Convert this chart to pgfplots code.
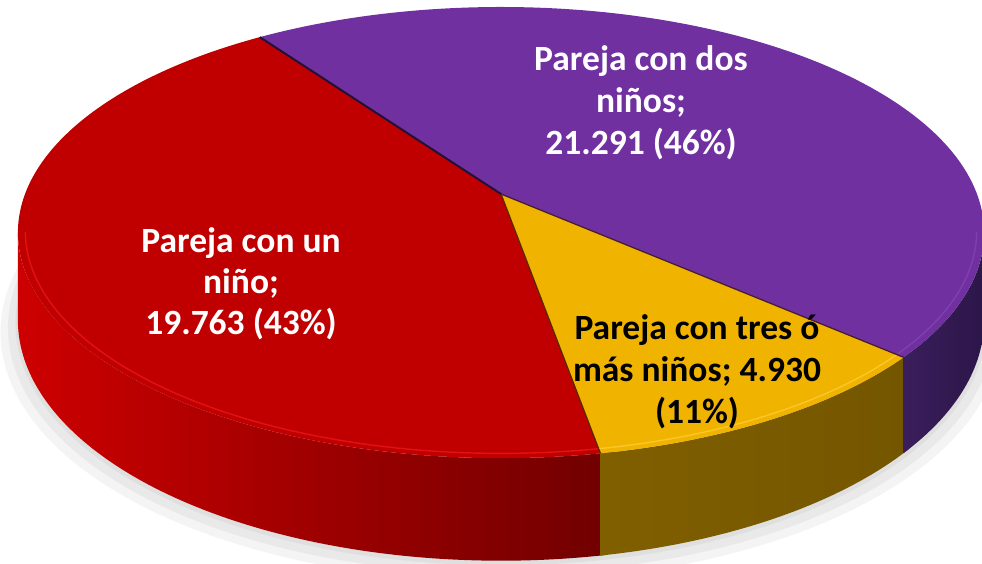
\documentclass[border=0pt]{standalone}
\usepackage{pgfplots}
\pgfplotsset{compat=1.18}
\usepackage{pgfplotstable}
\usepackage{fontspec}
\setmainfont{Carlito}
\definecolor{cRed}{RGB}{192,0,0}
\definecolor{cPur}{RGB}{112,48,160}
\definecolor{cYel}{RGB}{240,180,0}
\definecolor{sRedL}{RGB}{205,0,0}
\definecolor{sRedR}{RGB}{112,0,0}
\definecolor{sYelL}{RGB}{128,95,0}
\definecolor{sYelR}{RGB}{116,86,0}
\definecolor{sPurL}{RGB}{58,30,92}
\definecolor{sPurR}{RGB}{44,22,72}
\definecolor{hRed}{RGB}{226,18,18}
\definecolor{hYel}{RGB}{250,198,40}
\definecolor{hPur}{RGB}{126,64,176}
\pgfplotstableread{
cat value
un 19.763
dos 21.291
tres 4.930
}\piedata
\begin{document}%
\begin{tikzpicture}
\pgfplotstablegetelem{0}{value}\of\piedata \let\vA\pgfplotsretval
\pgfplotstablegetelem{1}{value}\of\piedata \let\vB\pgfplotsretval
\pgfplotstablegetelem{2}{value}\of\piedata \let\vC\pgfplotsretval
\pgfmathsetmacro\tot{\vA+\vB+\vC}
\pgfmathsetmacro\aS{280}
\pgfmathsetmacro\aR{\aS-360*\vA/\tot}
\pgfmathsetmacro\aP{\aR-360*\vB/\tot}
\pgfmathsetmacro\aY{\aP-360*\vC/\tot}
\pgfmathsetmacro\aPp{\aP+360}
\pgfmathsetmacro\aSx{\aS+1.2}
\pgfmathsetmacro\aPx{\aPp+1.2}
\pgfmathsetmacro\tL{180+asin(0.171)}
\pgfmathsetmacro\tRt{360-asin(0.171)}
\begin{axis}[
  at={(0,0)}, anchor=south west,
  width=982bp, height=564bp, scale only axis,
  xmin=0, xmax=982, ymin=0, ymax=564, y dir=reverse,
  hide axis, clip=false,
  declare function={
    den(\q,\w)=1+0.171*\q*sin(\w);
    PX(\q,\w)=501+476*\q*cos(\w)/den(\q,\w);
    PY(\q,\w)=194-219*\q*sin(\w)/den(\q,\w);
  },
]
% soft shadow
\foreach \k/\o in {1.035/9,1.02/6,1.005/3}{
  \addplot[fill=black, opacity=0.045, draw=none, domain=0:360, samples=181]
    ({PX(\k,\x)},{PY(\k,\x)+85/den(\k,\x)+\o});
}
% sides (each slightly overlapping the next to hide seams)
\addplot[shade, left color=sRedL, right color=sRedR, draw=none, domain=0:2, samples=401]
  ({PX(1,\tL+(\aSx-\tL)*(1-abs(\x-1)))},
   {PY(1,\tL+(\aSx-\tL)*(1-abs(\x-1)))+85*(\x>1)/den(1,\tL+(\aSx-\tL)*(1-abs(\x-1)))});
\addplot[shade, left color=sYelL, right color=sYelR, draw=none, domain=0:2, samples=401]
  ({PX(1,\aS+(\aPx-\aS)*(1-abs(\x-1)))},
   {PY(1,\aS+(\aPx-\aS)*(1-abs(\x-1)))+85*(\x>1)/den(1,\aS+(\aPx-\aS)*(1-abs(\x-1)))});
\addplot[shade, left color=sPurL, right color=sPurR, draw=none, domain=0:2, samples=401]
  ({PX(1,\aPp+(\tRt-\aPp)*(1-abs(\x-1)))},
   {PY(1,\aPp+(\tRt-\aPp)*(1-abs(\x-1)))+85*(\x>1)/den(1,\aPp+(\tRt-\aPp)*(1-abs(\x-1)))});
% top faces
\addplot[fill=cRed, draw=none, domain=0:3, samples=361]
  ({PX(min(\x,1,3-\x),\aS+(\aR-\aS)*min(max(\x-1,0),1))},
   {PY(min(\x,1,3-\x),\aS+(\aR-\aS)*min(max(\x-1,0),1))});
\addplot[fill=cPur, draw=none, domain=0:3, samples=361]
  ({PX(min(\x,1,3-\x),\aR+(\aP-\aR)*min(max(\x-1,0),1))},
   {PY(min(\x,1,3-\x),\aR+(\aP-\aR)*min(max(\x-1,0),1))});
\addplot[fill=cYel, draw=none, domain=0:3, samples=301]
  ({PX(min(\x,1,3-\x),\aP+(\aY-\aP)*min(max(\x-1,0),1))},
   {PY(min(\x,1,3-\x),\aP+(\aY-\aP)*min(max(\x-1,0),1))});
% rim highlights
\addplot[draw=hRed, line width=1.4bp, domain=\tL:\aS, samples=120] ({PX(0.985,\x)},{PY(0.985,\x)});
\addplot[draw=hYel, line width=1.4bp, domain=\aS:\aPp, samples=60] ({PX(0.985,\x)},{PY(0.985,\x)});
\addplot[draw=hPur, line width=1.4bp, domain=\aPp:\tRt, samples=40] ({PX(0.985,\x)},{PY(0.985,\x)});
% slice boundaries
\addplot[draw={rgb,255:red,35;green,18;blue,55}, line width=2bp, domain=0:1, samples=2] ({PX(\x,\aR)},{PY(\x,\aR)});
\addplot[draw={rgb,255:red,70;green,30;blue,50}, line width=1.3bp, domain=0:1, samples=2] ({PX(\x,\aP)},{PY(\x,\aP)});
\addplot[draw={rgb,255:red,90;green,40;blue,0}, line width=1.3bp, domain=0:1, samples=2] ({PX(\x,\aY)},{PY(\x,\aY)});
% labels
\node[text=white, align=center, font={\fontsize{35.5bp}{42bp}\selectfont\bfseries}]
  at (axis cs:641,103) {Pareja con dos\\niños;\\21.291 (46\%)};
\node[text=white, align=center, font={\fontsize{35.5bp}{41bp}\selectfont\bfseries}]
  at (axis cs:241,284) {Pareja con un\\niño;\\19.763 (43\%)};
\node[text=black, align=center, font={\fontsize{35.5bp}{42bp}\selectfont\bfseries}]
  at (axis cs:697,372) {Pareja con tres ó\\más niños; 4.930\\(11\%)};
\end{axis}
\pgfresetboundingbox
\path[use as bounding box] (0,0) rectangle (982bp,564bp);
\end{tikzpicture}%
\end{document}
